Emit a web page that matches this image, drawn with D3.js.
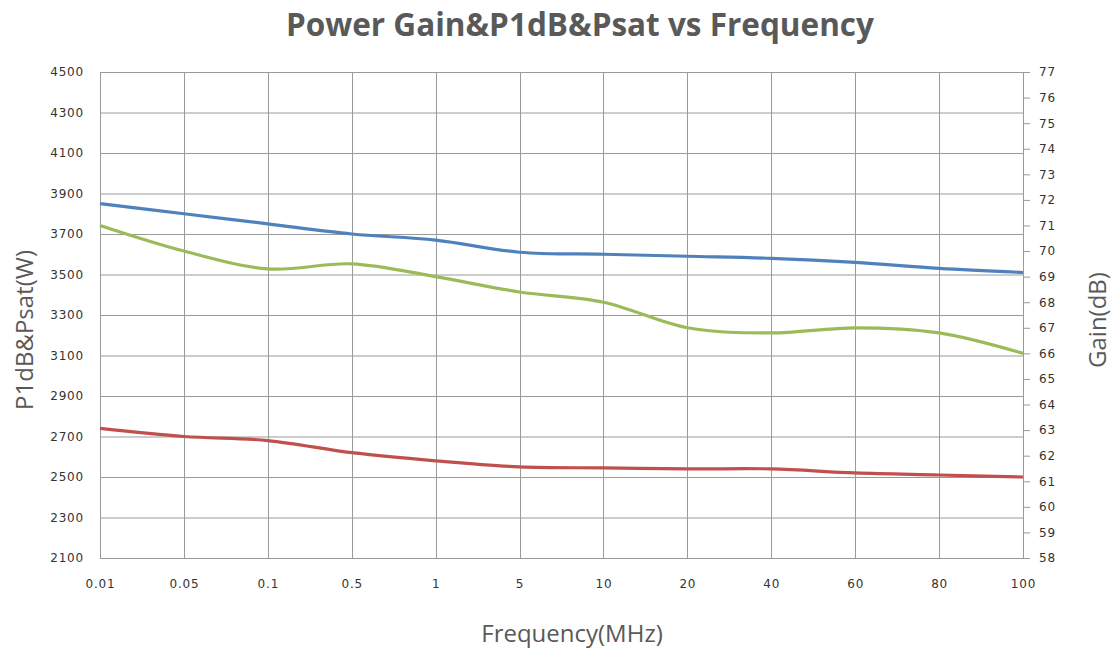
<!DOCTYPE html>
<html>
<head>
<meta charset="utf-8">
<script src="https://cdn.jsdelivr.net/npm/d3@7"></script>
<style>
  body { margin: 0; background: #fff; }
  svg { display: block; }
</style>
</head>
<body>
<svg id="chart" width="1117" height="650"></svg>
<script>
// ---- data ----
const categories = ["0.01", "0.05", "0.1", "0.5", "1", "5", "10", "20", "40", "60", "80", "100"];
const psatW  = [3850, 3800, 3750, 3700, 3670, 3610, 3600, 3590, 3580, 3560, 3530, 3510];
const p1dbW  = [2740, 2700, 2680, 2620, 2580, 2550, 2545, 2540, 2540, 2520, 2510, 2500];
const gainDb = [71.0, 70.0, 69.3, 69.5, 69.0, 68.4, 68.0, 67.0, 66.8, 67.0, 66.8, 66.0];
const leftTicks  = [2100, 2300, 2500, 2700, 2900, 3100, 3300, 3500, 3700, 3900, 4100, 4300, 4500];
const rightTicks = [58, 59, 60, 61, 62, 63, 64, 65, 66, 67, 68, 69, 70, 71, 72, 73, 74, 75, 76, 77];

const svg = d3.select("#chart");
const L = 100, R = 1023, T = 72, B = 558;

const x = d3.scalePoint().domain(categories).range([L, R]).padding(0);
const yL = d3.scaleLinear().domain([2100, 4500]).range([B, T]);
const yR = d3.scaleLinear().domain([58, 77]).range([B, T]);

const gridColor = "#9a9a9a";
const tickFont = "'DejaVu Sans', Verdana, sans-serif";

// grid
const grid = svg.append("g");
grid.selectAll("line.h").data(leftTicks).join("line")
  .attr("x1", L).attr("x2", R)
  .attr("y1", d => yL(d) + 0.5).attr("y2", d => yL(d) + 0.5)
  .attr("stroke", gridColor).attr("stroke-width", 1);
grid.selectAll("line.v").data(categories).join("line")
  .attr("x1", d => Math.round(x(d)) + 0.5).attr("x2", d => Math.round(x(d)) + 0.5)
  .attr("y1", T).attr("y2", B)
  .attr("stroke", gridColor).attr("stroke-width", 1);

// left axis
const gL = svg.append("g").attr("transform", `translate(${L},0)`)
  .call(d3.axisLeft(yL).tickValues(leftTicks).tickSize(0).tickPadding(16).tickFormat(d3.format("d")));
gL.select(".domain").attr("stroke", gridColor);
gL.selectAll("text").attr("font-family", tickFont).attr("font-size", 12)
  .attr("letter-spacing", "0.8px").attr("fill", "#333");

// right axis
const gR = svg.append("g").attr("transform", `translate(${R},0)`)
  .call(d3.axisRight(yR).tickValues(rightTicks).tickSize(7).tickPadding(9).tickFormat(d3.format("d")));
gR.select(".domain").attr("stroke", gridColor);
gR.selectAll(".tick line").attr("stroke", gridColor);
gR.selectAll("text").attr("font-family", tickFont).attr("font-size", 12)
  .attr("letter-spacing", "0.8px").attr("fill", "#333");

// bottom axis
const gB = svg.append("g").attr("transform", `translate(0,${B})`)
  .call(d3.axisBottom(x).tickSize(0).tickPadding(21));
gB.select(".domain").attr("stroke", gridColor);
gB.selectAll("text").attr("font-family", tickFont).attr("font-size", 12)
  .attr("letter-spacing", "0.8px").attr("fill", "#333");

// lines
const curve = d3.curveCatmullRom.alpha(0);
const lineL = d3.line().x((d, i) => x(categories[i])).y(d => yL(d)).curve(curve);
const lineR = d3.line().x((d, i) => x(categories[i])).y(d => yR(d)).curve(curve);

svg.append("path").datum(psatW).attr("d", lineL)
  .attr("fill", "none").attr("stroke", "#4f81bd").attr("stroke-width", 3.2);
svg.append("path").datum(gainDb).attr("d", lineR)
  .attr("fill", "none").attr("stroke", "#9bbb59").attr("stroke-width", 3.2);
svg.append("path").datum(p1dbW).attr("d", lineL)
  .attr("fill", "none").attr("stroke", "#c0504d").attr("stroke-width", 3.2);

// titles
const labelFont = "'Open Sans', 'Noto Sans', sans-serif";
svg.append("text").attr("x", 580).attr("y", 36).attr("text-anchor", "middle")
  .attr("font-family", labelFont).attr("font-weight", "bold").attr("font-size", 31.5)
  .attr("fill", "#595959").text("Power Gain&P1dB&Psat vs Frequency");

svg.append("text").attr("x", 572).attr("y", 642).attr("text-anchor", "middle")
  .attr("font-family", labelFont).attr("font-size", 24)
  .attr("fill", "#595959").text("Frequency(MHz)");

svg.append("text").attr("transform", "translate(33,330) rotate(-90)").attr("text-anchor", "middle")
  .attr("font-family", labelFont).attr("font-size", 24)
  .attr("fill", "#595959").text("P1dB&Psat(W)");

svg.append("text").attr("transform", "translate(1106,320) rotate(-90)").attr("text-anchor", "middle")
  .attr("font-family", labelFont).attr("font-size", 24)
  .attr("fill", "#595959").text("Gain(dB)");
</script>
</body>
</html>
